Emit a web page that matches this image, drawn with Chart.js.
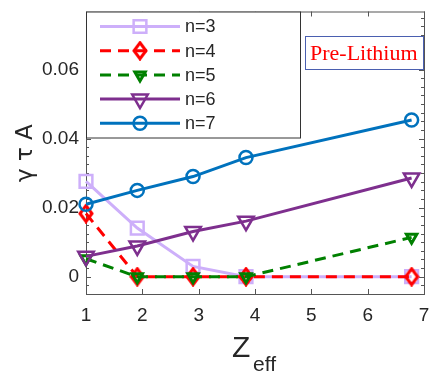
<!DOCTYPE html>
<html><head><meta charset="utf-8">
<script src="https://cdn.jsdelivr.net/npm/chart.js@4.4.1/dist/chart.umd.min.js"></script>
<style>html,body{margin:0;padding:0;background:#fff}#wrap{width:436px;height:375px}</style>
</head><body><div id="wrap"><canvas id="c" width="436" height="375"></canvas></div>
<script>
const zeff = [1, 1.91, 2.9, 3.84, 6.78];
const n3 = [0.0276, 0.0141, 0.0030, 0.0, 0.0];
const n4 = [0.0183, 0.0, 0.0, 0.0, 0.0];
const n5 = [0.0052, 0.0, 0.0, 0.0, 0.0114];
const n6 = [0.0059, 0.0089, 0.0131, 0.0161, 0.0286];
const n7 = [0.0210, 0.0250, 0.0290, 0.0345, 0.0454];
const seriesNames = ['n=3', 'n=4', 'n=5', 'n=6', 'n=7'];
const xTicks = [1, 2, 3, 4, 5, 6, 7];
const yTicks = [0, 0.02, 0.04, 0.06];
const yTickLabels = ['0', '0.02', '0.04', '0.06'];
const annotationText = 'Pre-Lithium';

const TXT = '#262626';

function makeDiamond(color) {
  const c = document.createElement('canvas');
  c.width = 16; c.height = 20;
  const g = c.getContext('2d');
  g.strokeStyle = color; g.lineWidth = 3; g.lineJoin = 'miter';
  g.beginPath();
  g.moveTo(8, 2); g.lineTo(14, 10); g.lineTo(8, 18); g.lineTo(2, 10); g.closePath();
  g.stroke();
  return c;
}
const diamond = makeDiamond('#ff0000');

const styles = [
  {color:'rgb(205,175,250)', dash:[], ps:'rect', r:9, rot:0, bw:2.5},
  {color:'#ff0000', dash:[11,7], ps:diamond, r:8, rot:0, bw:3},
  {color:'#008000', dash:[11,7], ps:'triangle', r:6, rot:180, bw:3},
  {color:'#7e2f8e', dash:[], ps:'triangle', r:9, rot:180, bw:2.5},
  {color:'#0072bd', dash:[], ps:'circle', r:6.5, rot:0, bw:2.5}
];
const allSeries = [n3, n4, n5, n6, n7];
const datasets = allSeries.map((s, i) => ({
  label: seriesNames[i],
  data: zeff.map((x, j) => ({x: x, y: s[j]})),
  borderColor: styles[i].color,
  backgroundColor: 'rgba(0,0,0,0)',
  borderWidth: 3,
  borderDash: styles[i].dash,
  pointStyle: styles[i].ps,
  pointRadius: styles[i].r,
  pointRotation: styles[i].rot,
  pointBorderWidth: styles[i].bw,
  pointBackgroundColor: 'rgba(0,0,0,0)',
  pointBorderColor: styles[i].color,
  tension: 0,
  clip: false,
  order: 5 - i
}));

function drawMarker(ctx, st, x, y) {
  ctx.save();
  ctx.setLineDash([]);
  ctx.strokeStyle = st.color;
  ctx.fillStyle = 'rgba(0,0,0,0)';
  ctx.lineWidth = st.bw;
  Chart.helpers.drawPoint(ctx, {pointStyle: st.ps, rotation: st.rot, radius: st.r, borderWidth: st.bw}, x, y);
  ctx.restore();
}

const framePlugin = {
  id: 'frame',
  beforeDatasetsDraw(chart) {
    const {ctx, chartArea: a, scales: {x, y}} = chart;
    ctx.save();
    ctx.strokeStyle = '#555';
    ctx.lineWidth = 1;
    ctx.strokeRect(a.left + 0.5, a.top + 0.5, a.right - a.left, a.bottom - a.top);
    ctx.beginPath();
    xTicks.forEach(v => {
      const px = Math.round(x.getPixelForValue(v)) + 0.5;
      ctx.moveTo(px, a.bottom); ctx.lineTo(px, a.bottom - 5);
      ctx.moveTo(px, a.top); ctx.lineTo(px, a.top + 5);
    });
    for (let k = -2; k <= 30; k++) {
      const v = k * 0.0025;
      if (v < y.min || v > y.max) continue;
      const py = Math.round(y.getPixelForValue(v)) + 0.5;
      const major = yTicks.some(t => Math.abs(t - v) < 1e-9);
      const len = major ? 5 : 3;
      ctx.moveTo(a.left, py); ctx.lineTo(a.left + len, py);
      ctx.moveTo(a.right, py); ctx.lineTo(a.right - len, py);
    }
    ctx.stroke();
    ctx.restore();
  },
  afterDatasetsDraw(chart) {
    const {ctx, chartArea: a} = chart;
    ctx.save();
    const lx = a.left, ly = a.top, lw = 214, lh = 126;
    ctx.fillStyle = '#fff';
    ctx.fillRect(lx, ly, lw, lh);
    ctx.strokeStyle = '#333';
    ctx.lineWidth = 1;
    ctx.strokeRect(lx + 0.5, ly + 0.5, lw, lh);
    seriesNames.forEach((name, i) => {
      const st = styles[i];
      const yy = ly + 15 + i * 24.2;
      ctx.save();
      ctx.strokeStyle = st.color;
      ctx.lineWidth = 3;
      ctx.setLineDash(st.dash);
      ctx.beginPath();
      ctx.moveTo(lx + 14, yy); ctx.lineTo(lx + 94, yy);
      ctx.stroke();
      ctx.restore();
      drawMarker(ctx, st, lx + 54, yy);
      ctx.fillStyle = TXT;
      ctx.font = '18px "Liberation Sans", Arial, sans-serif';
      ctx.textBaseline = 'middle';
      ctx.textAlign = 'left';
      ctx.fillText(name, lx + 99, yy + 1);
    });
    const bx = 305, by = 36, bw = 119, bh = 33;
    ctx.fillStyle = '#fff';
    ctx.fillRect(bx, by, bw, bh);
    ctx.strokeStyle = '#4a5fb0';
    ctx.lineWidth = 1;
    ctx.strokeRect(bx + 0.5, by + 0.5, bw - 1, bh);
    ctx.fillStyle = '#ff0000';
    ctx.font = '22px "Liberation Serif", "Times New Roman", serif';
    ctx.textBaseline = 'alphabetic';
    ctx.textAlign = 'left';
    ctx.fillText(annotationText, bx + 5, by + 24);
    ctx.fillStyle = TXT;
    ctx.font = '30px "Liberation Sans", Arial, sans-serif';
    ctx.fillText('Z', 232, 357);
    ctx.font = '21px "Liberation Sans", Arial, sans-serif';
    ctx.fillText('eff', 253, 371);
    ctx.save();
    ctx.translate(32, 182);
    ctx.rotate(-Math.PI / 2);
    ctx.font = '23px "DejaVu Sans", sans-serif';
    ctx.fillText('\u03b3 \u03c4 A', 0, 0);
    ctx.restore();
    ctx.restore();
  }
};

new Chart(document.getElementById('c'), {
  type: 'line',
  data: {datasets},
  plugins: [framePlugin],
  options: {
    responsive: false,
    animation: false,
    events: [],
    layout: {padding: {left: 0, right: 12, top: 8, bottom: 0}},
    plugins: {legend: {display: false}, tooltip: {enabled: false}},
    scales: {
      x: {
        type: 'linear', min: 1, max: 7,
        grid: {display: false, drawTicks: false},
        border: {display: false},
        afterBuildTicks: s => { s.ticks = xTicks.map(v => ({value: v})); },
        afterFit: s => { s.height = 81; s.paddingLeft = 0; s.paddingRight = 0; },
        ticks: {color: TXT, font: {family: '"Liberation Sans", Arial, sans-serif', size: 19}, padding: 10, maxRotation: 0,
          callback: v => String(v)}
      },
      y: {
        type: 'linear', min: -0.005, max: 0.0768,
        grid: {display: false, drawTicks: false},
        border: {display: false},
        afterBuildTicks: s => { s.ticks = yTicks.map(v => ({value: v})); },
        afterFit: s => { s.width = 86; s.paddingTop = 0; s.paddingBottom = 0; },
        ticks: {color: TXT, font: {family: '"Liberation Sans", Arial, sans-serif', size: 19}, padding: 7,
          callback: (v) => { const i = yTicks.findIndex(t => Math.abs(t - v) < 1e-9); return i >= 0 ? yTickLabels[i] : ''; }}
      }
    }
  }
});
</script></body></html>
